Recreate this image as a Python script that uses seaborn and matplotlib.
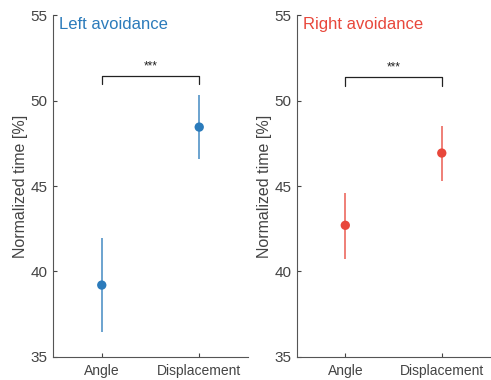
import numpy as np
import pandas as pd
import matplotlib; matplotlib.use("Agg")
import matplotlib.pyplot as plt
import seaborn as sns

# values
conditions = ["Angle", "Displacement"]
left_mean = [39.2, 48.45]
left_lo = [36.45, 46.6]
left_hi = [41.95, 50.35]
right_mean = [42.7, 46.93]
right_lo = [40.75, 45.3]
right_hi = [44.6, 48.53]
panel_titles = ["Left avoidance", "Right avoidance"]
panel_colors = ["#2b7bbb", "#e8473b"]
sig_label = "***"

sns.set_style("ticks")
plt.rcParams["font.family"] = ["Liberation Sans", "DejaVu Sans"]

fig = plt.figure(figsize=(4.91, 3.80), dpi=100)
ax_l = fig.add_axes([0.108, 0.061, 0.397, 0.899])
ax_r = fig.add_axes([0.605, 0.061, 0.393, 0.899])

panels = [(ax_l, left_mean, left_lo, left_hi, 51.45, 50.95),
          (ax_r, right_mean, right_lo, right_hi, 51.38, 50.88)]

for i, (ax, m, lo, hi, br_y, br_leg) in enumerate(panels):
    col = panel_colors[i]
    df = pd.DataFrame({"condition": conditions, "mean": m, "lo": lo, "hi": hi})
    ax.vlines(np.arange(len(df)), df["lo"], df["hi"], color=col, alpha=0.75, lw=1.3, zorder=2)
    sns.scatterplot(data=df, x="condition", y="mean", ax=ax, color=col, s=45,
                    edgecolor="none", zorder=3)
    # significance bracket
    ax.plot([0, 0, 1, 1], [br_leg, br_y, br_y, br_leg], color="#222222", lw=0.9)
    ax.text(0.5, br_y + 0.2, sig_label, ha="center", va="bottom", fontsize=8.5, color="#222222")
    ax.text(0.03, 0.995, panel_titles[i], transform=ax.transAxes, ha="left", va="top",
            fontsize=12, color=col)
    ax.set_xlim(-0.5, 1.5)
    ax.set_ylim(35, 55)
    ax.set_yticks([35, 40, 45, 50, 55])
    ax.set_xlabel("")
    ax.set_ylabel("Normalized time [%]", fontsize=11.5, color="#444444", labelpad=2)
    ax.tick_params(direction="in", length=3, colors="#444444", width=0.8)
    ax.tick_params(axis="y", labelsize=11, pad=4)
    ax.tick_params(axis="x", labelsize=10, pad=5)
    for s in ["top", "right"]:
        ax.spines[s].set_visible(False)
    for s in ["left", "bottom"]:
        ax.spines[s].set_color("#555555")
        ax.spines[s].set_linewidth(0.8)

fig.savefig("out.png", dpi=100)
